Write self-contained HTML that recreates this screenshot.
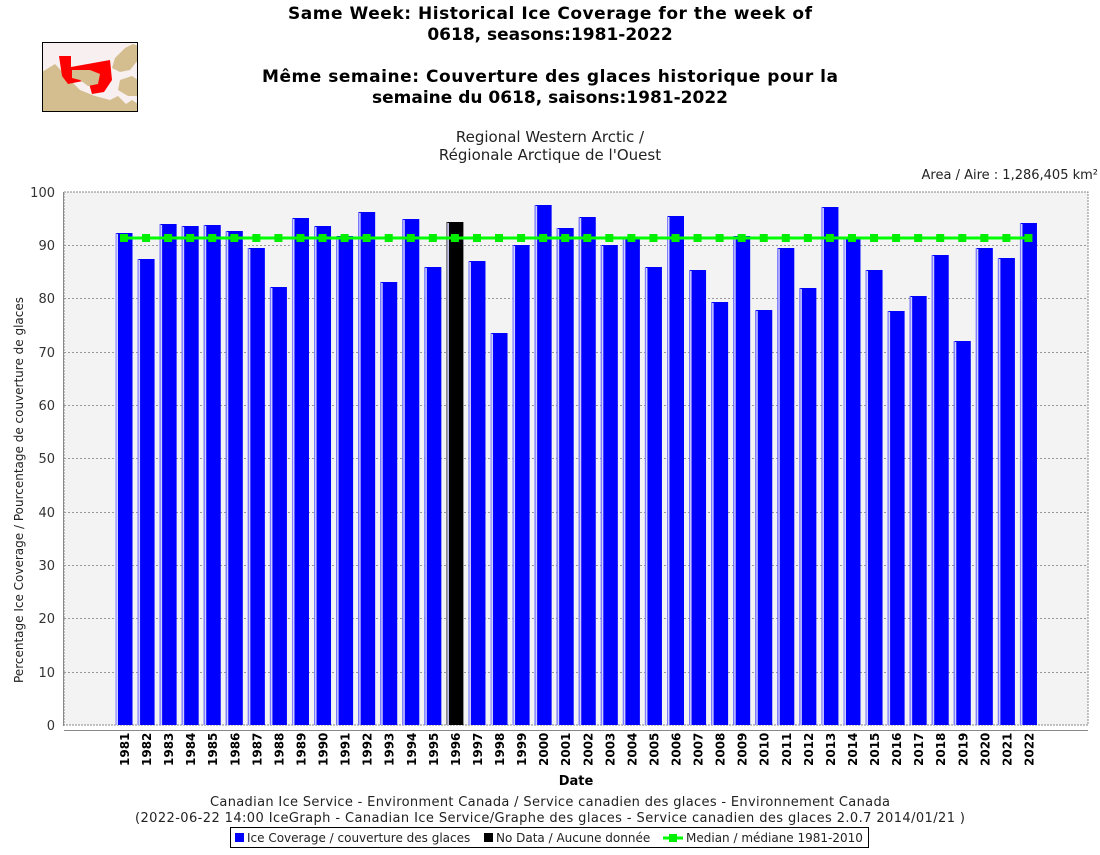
<!DOCTYPE html>
<html><head><meta charset="utf-8"><style>
body{margin:0;background:#fff;width:1100px;height:850px;overflow:hidden}
svg text{font-family:"DejaVu Sans","Liberation Sans",sans-serif}
</style></head><body>
<svg width="1100" height="850" xmlns="http://www.w3.org/2000/svg">
<rect width="1100" height="850" fill="#fff"/>
<!-- map -->
<rect x="42" y="42" width="96" height="70" fill="#f8f0f0"/>
<polygon points="42,72 55,64 70,80 80,90 95,96 110,100 118,96 126,104 132,100 138,104 138,112 42,112" fill="#d4bd8e"/>
<polygon points="115,58 125,48 133,44 138,46 138,60 130,70 120,72 112,68" fill="#d4bd8e"/>
<polygon points="120,80 132,76 138,80 138,96 128,96 118,90" fill="#d4bd8e"/>
<polygon points="59,56 71,56 71,67 110,60 112,80 104,92 92,94 88,80 68,84 62,76" fill="#ff0000"/>
<polygon points="72,70 90,70 100,74 98,84 88,86 80,80 72,78" fill="#d4bd8e"/>
<rect x="42.5" y="42.5" width="95" height="69" fill="none" stroke="#000"/>
<text x="550" y="19" font-size="17" font-weight="bold" text-anchor="middle" textLength="524">Same Week: Historical Ice Coverage for the week of</text>
<text x="550" y="40" font-size="17" font-weight="bold" text-anchor="middle">0618, seasons:1981-2022</text>
<text x="550" y="82" font-size="17" font-weight="bold" text-anchor="middle" textLength="576">Même semaine: Couverture des glaces historique pour la</text>
<text x="550" y="103" font-size="17" font-weight="bold" text-anchor="middle">semaine du 0618, saisons:1981-2022</text>
<text x="550" y="142" font-size="15" text-anchor="middle" fill="#222">Regional Western Arctic /</text>
<text x="550" y="160" font-size="15" text-anchor="middle" fill="#222">Régionale Arctique de l'Ouest</text>
<text x="1098" y="179" font-size="13" text-anchor="end" fill="#222">Area / Aire : 1,286,405 km²</text>
<rect x="64" y="192" width="1024" height="533" fill="#f3f3f3" stroke="#888" stroke-dasharray="2,1"/>
<g stroke="#999" stroke-dasharray="2,2" stroke-width="1">
<line x1="64" x2="1088" y1="245.5" y2="245.5"/><line x1="64" x2="1088" y1="298.5" y2="298.5"/>
<line x1="64" x2="1088" y1="352.5" y2="352.5"/><line x1="64" x2="1088" y1="405.5" y2="405.5"/>
<line x1="64" x2="1088" y1="458.5" y2="458.5"/><line x1="64" x2="1088" y1="512.5" y2="512.5"/>
<line x1="64" x2="1088" y1="565.5" y2="565.5"/><line x1="64" x2="1088" y1="618.5" y2="618.5"/>
<line x1="64" x2="1088" y1="672.5" y2="672.5"/>
</g>
<line x1="63.5" y1="192" x2="63.5" y2="726" stroke="#888"/>
<line x1="64" y1="730.5" x2="1088" y2="730.5" stroke="#888"/>
<g font-size="13" text-anchor="end" fill="#333">
<text x="55" y="197">100</text><text x="55" y="250">90</text><text x="55" y="303">80</text><text x="55" y="357">70</text><text x="55" y="410">60</text><text x="55" y="463">50</text><text x="55" y="517">40</text><text x="55" y="570">30</text><text x="55" y="623">20</text><text x="55" y="677">10</text><text x="55" y="730">0</text>
</g>
<text transform="translate(23,490) rotate(-90)" font-size="12" text-anchor="middle" fill="#222">Percentage Ice Coverage / Pourcentage de couverture de glaces</text>
<g id="bars"></g>
<g id="labels" font-size="12" font-weight="bold" fill="#000"></g>
<polyline id="med" fill="none" stroke="#00ff00" stroke-width="3"/>
<g id="mk" fill="#00ee00"></g>
<text x="576" y="785" font-size="13" font-weight="bold" text-anchor="middle">Date</text>
<text x="550" y="806" font-size="13" text-anchor="middle" fill="#222" textLength="680">Canadian Ice Service - Environment Canada / Service canadien des glaces - Environnement Canada</text>
<text x="550" y="822" font-size="13" text-anchor="middle" fill="#222" textLength="830">(2022-06-22 14:00 IceGraph - Canadian Ice Service/Graphe des glaces - Service canadien des glaces 2.0.7 2014/01/21 )</text>
<rect x="230.5" y="827.5" width="638" height="20" fill="#fff" stroke="#000"/>
<rect x="235" y="833" width="9" height="9" fill="#0000ff"/>
<text x="247" y="842" font-size="12" fill="#222">Ice Coverage / couverture des glaces</text>
<rect x="484" y="833" width="9" height="9" fill="#000"/>
<text x="496" y="842" font-size="12" fill="#222">No Data / Aucune donnée</text>
<line x1="663" y1="838" x2="683" y2="838" stroke="#00ff00" stroke-width="3"/>
<rect x="669" y="834" width="8" height="8" fill="#00ee00"/>
<text x="686" y="842" font-size="12" fill="#222">Median / médiane 1981-2010</text>
</svg>
<script>
var tops=[233,259,224,226,225,231,248,287,218,226,236,212,282,219,267,222,261,333,245,205,228,217,245,237,267,216,270,302,236,310,248,288,207,238,270,311,296,255,341,248,258,223];
var ns="http://www.w3.org/2000/svg",b=document.getElementById('bars'),l=document.getElementById('labels'),mk=document.getElementById('mk');
var pts=[];
tops.forEach(function(t,i){
 var c=124+i*22.06,x=c-8.5;
 var r=document.createElementNS(ns,'rect');
 r.setAttribute('x',x);r.setAttribute('y',t);r.setAttribute('width',17);r.setAttribute('height',725-t);
 r.setAttribute('fill',i==15?'#000':'#0000ff');b.appendChild(r);
 var s=document.createElementNS(ns,'rect');
 s.setAttribute('x',x);s.setAttribute('y',t);s.setAttribute('width',1);s.setAttribute('height',725-t);
 s.setAttribute('fill',i==15?'#666':'#8080ff');b.appendChild(s);
 var w=document.createElementNS(ns,'rect');
 w.setAttribute('x',x+1);w.setAttribute('y',t+1);w.setAttribute('width',1.5);w.setAttribute('height',724-t);
 w.setAttribute('fill','#d0d0ff');b.appendChild(w);
 var tx=document.createElementNS(ns,'text');
 tx.setAttribute('transform','translate('+(c+5)+',766) rotate(-90)');tx.textContent=1981+i;l.appendChild(tx);
 pts.push(c+','+238);
 var m=document.createElementNS(ns,'rect');
 m.setAttribute('x',c-4);m.setAttribute('y',234);m.setAttribute('width',8);m.setAttribute('height',8);mk.appendChild(m);
});
document.getElementById('med').setAttribute('points',pts.join(' '));
</script>
</body></html>
